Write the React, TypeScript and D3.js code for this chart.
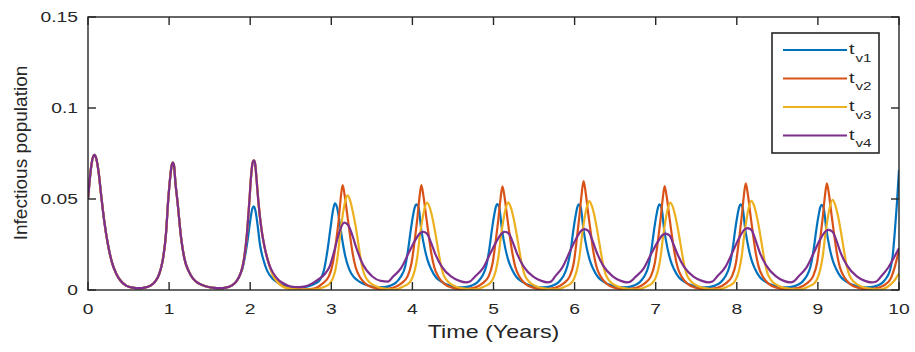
import React from 'react';
import * as d3 from 'd3';

type Pt = [number, number];

const xTicks = [0, 1, 2, 3, 4, 5, 6, 7, 8, 9, 10];
const yTicks = [0, 0.05, 0.1, 0.15];
const yTickLabels = ['0', '0.05', '0.1', '0.15'];
const seriesSubs = ['v1', 'v2', 'v3', 'v4'];
const seriesColors = ['#0072BD', '#D95319', '#EDB120', '#7E2F8E'];

const commonStart: Pt[] = [
  [0, 0.05], [0.02, 0.06], [0.04, 0.068], [0.06, 0.0728], [0.08, 0.0742], [0.1, 0.0725], [0.13, 0.065],
  [0.16, 0.053], [0.2, 0.038], [0.25, 0.024], [0.3, 0.0145], [0.35, 0.0088], [0.4, 0.0052], [0.47, 0.0024],
  [0.55, 0.0013], [0.63, 0.001], [0.7, 0.0013], [0.77, 0.0024], [0.83, 0.0048], [0.88, 0.009], [0.92, 0.016],
  [0.96, 0.03], [0.99, 0.05], [1.015, 0.0625], [1.03, 0.068], [1.045, 0.07], [1.06, 0.0685], [1.08, 0.058],
  [1.1, 0.05], [1.15, 0.028], [1.19, 0.017], [1.24, 0.0105], [1.3, 0.006], [1.37, 0.0035], [1.45, 0.0021],
  [1.55, 0.0012], [1.63, 0.001], [1.7, 0.0013], [1.77, 0.0024], [1.83, 0.0048], [1.88, 0.009],
];

const peak2Shared: Pt[] = [
  [1.92, 0.016], [1.96, 0.031], [1.99, 0.049], [2.01, 0.062], [2.03, 0.07], [2.045, 0.0712], [2.06, 0.0695],
  [2.08, 0.06], [2.1, 0.049], [2.14, 0.033], [2.18, 0.023], [2.23, 0.0145],
];

const tv1Tail: Pt[] = [
  [1.9, 0.011], [1.93, 0.017], [1.97, 0.028], [2.0, 0.038], [2.025, 0.0445], [2.04, 0.046], [2.06, 0.0445],
  [2.09, 0.036], [2.12, 0.025], [2.16, 0.017], [2.21, 0.0105], [2.27, 0.0065], [2.35, 0.0038], [2.45, 0.0022],
  [2.55, 0.0015], [2.65, 0.0015], [2.73, 0.0022], [2.8, 0.0035], [2.86, 0.0055], [2.91, 0.011], [2.95, 0.021],
  [2.99, 0.034], [3.02, 0.0435], [3.045, 0.0476], [3.07, 0.0455], [3.1, 0.038], [3.13, 0.029], [3.17, 0.019],
  [3.22, 0.0115], [3.28, 0.007], [3.35, 0.0045], [3.45, 0.0025], [3.55, 0.0016],
  [3.65, 0.0016], [3.73, 0.0024], [3.8, 0.0042], [3.86, 0.0075], [3.91, 0.0128], [3.95, 0.023], [3.98, 0.033],
  [4.01, 0.0415], [4.03, 0.0455], [4.05, 0.047], [4.075, 0.0455], [4.11, 0.033], [4.15, 0.023], [4.19, 0.016],
  [4.23, 0.0115], [4.29, 0.007], [4.36, 0.0045], [4.46, 0.0024], [4.56, 0.0015],
  [4.65, 0.0016], [4.73, 0.0024], [4.8, 0.0042], [4.86, 0.0075], [4.91, 0.013], [4.95, 0.023], [4.98, 0.033],
  [5.01, 0.0415], [5.03, 0.0458], [5.045, 0.0472], [5.07, 0.0456], [5.105, 0.033], [5.145, 0.023], [5.185, 0.016],
  [5.225, 0.0115], [5.285, 0.007], [5.355, 0.0045], [5.455, 0.0024], [5.555, 0.0015],
  [5.65, 0.0016], [5.73, 0.0024], [5.8, 0.0042], [5.86, 0.0075], [5.91, 0.013], [5.955, 0.023], [5.985, 0.033],
  [6.015, 0.0415], [6.035, 0.0457], [6.05, 0.0471], [6.075, 0.0455], [6.11, 0.033], [6.15, 0.023], [6.19, 0.016],
  [6.23, 0.0115], [6.29, 0.007], [6.36, 0.0045], [6.46, 0.0024], [6.56, 0.0015],
  [6.65, 0.0016], [6.73, 0.0024], [6.8, 0.0042], [6.86, 0.0075], [6.91, 0.013], [6.95, 0.023], [6.98, 0.033],
  [7.01, 0.0414], [7.03, 0.0456], [7.045, 0.047], [7.07, 0.0455], [7.105, 0.033], [7.145, 0.023], [7.185, 0.016],
  [7.225, 0.0115], [7.285, 0.007], [7.355, 0.0045], [7.455, 0.0024], [7.555, 0.0015],
  [7.65, 0.0016], [7.73, 0.0024], [7.8, 0.0042], [7.86, 0.0075], [7.91, 0.013], [7.95, 0.023], [7.98, 0.033],
  [8.01, 0.0415], [8.03, 0.0457], [8.045, 0.0471], [8.07, 0.0455], [8.105, 0.033], [8.145, 0.023], [8.185, 0.016],
  [8.225, 0.0115], [8.285, 0.007], [8.355, 0.0045], [8.455, 0.0024], [8.555, 0.0015],
  [8.65, 0.0016], [8.73, 0.0024], [8.8, 0.0042], [8.86, 0.0075], [8.91, 0.013], [8.95, 0.023], [8.98, 0.033],
  [9.01, 0.0414], [9.03, 0.0455], [9.046, 0.0468], [9.07, 0.0453], [9.105, 0.033], [9.145, 0.023], [9.185, 0.016],
  [9.225, 0.0115], [9.285, 0.007], [9.355, 0.0045], [9.455, 0.0024], [9.555, 0.0015],
  [9.65, 0.0016], [9.73, 0.0024], [9.8, 0.0042], [9.85, 0.007], [9.89, 0.011], [9.92, 0.018], [9.95, 0.033],
  [9.975, 0.048], [10.0, 0.066],
];

const tv2Tail: Pt[] = [
  [2.285, 0.0078], [2.35, 0.0038], [2.43, 0.0015], [2.52, 0.0006], [2.62, 0.0003], [2.72, 0.0004], [2.8, 0.0009],
  [2.89, 0.0035], [2.97, 0.0075], [3.02, 0.015], [3.06, 0.027], [3.09, 0.038], [3.115, 0.05], [3.14, 0.0577],
  [3.165, 0.052], [3.195, 0.042], [3.225, 0.032], [3.26, 0.021], [3.3, 0.0125], [3.35, 0.0073], [3.42, 0.0035],
  [3.52, 0.0012], [3.64, 0.0004],
  [3.76, 0.0012], [3.86, 0.0035], [3.94, 0.0075], [3.99, 0.015], [4.03, 0.028], [4.06, 0.039], [4.085, 0.05],
  [4.11, 0.0577], [4.135, 0.052], [4.165, 0.042], [4.195, 0.032], [4.23, 0.021], [4.27, 0.0125], [4.32, 0.0073],
  [4.39, 0.0035], [4.49, 0.0012], [4.61, 0.0004],
  [4.76, 0.0012], [4.86, 0.0035], [4.94, 0.0075], [4.99, 0.015], [5.03, 0.028], [5.06, 0.039], [5.085, 0.0495],
  [5.11, 0.057], [5.135, 0.0515], [5.165, 0.0415], [5.195, 0.0315], [5.23, 0.021], [5.27, 0.0125], [5.32, 0.0073],
  [5.39, 0.0035], [5.49, 0.0012], [5.61, 0.0004],
  [5.76, 0.0012], [5.86, 0.0035], [5.94, 0.0075], [5.99, 0.015], [6.03, 0.029], [6.06, 0.041], [6.085, 0.052],
  [6.11, 0.0598], [6.135, 0.054], [6.165, 0.043], [6.195, 0.033], [6.23, 0.0215], [6.27, 0.0128], [6.32, 0.0075],
  [6.39, 0.0036], [6.49, 0.0012], [6.61, 0.0004],
  [6.76, 0.0012], [6.86, 0.0035], [6.94, 0.0075], [6.99, 0.015], [7.03, 0.028], [7.06, 0.039], [7.085, 0.0495],
  [7.11, 0.0571], [7.135, 0.0515], [7.165, 0.0415], [7.195, 0.0315], [7.23, 0.021], [7.27, 0.0125], [7.32, 0.0073],
  [7.39, 0.0035], [7.49, 0.0012], [7.61, 0.0004],
  [7.76, 0.0012], [7.86, 0.0035], [7.94, 0.0075], [7.99, 0.015], [8.03, 0.0285], [8.06, 0.04], [8.085, 0.051],
  [8.11, 0.0586], [8.135, 0.053], [8.165, 0.0425], [8.195, 0.0322], [8.23, 0.0213], [8.27, 0.0127], [8.32, 0.0074],
  [8.39, 0.0035], [8.49, 0.0012], [8.61, 0.0004],
  [8.76, 0.0012], [8.86, 0.0035], [8.94, 0.0075], [8.99, 0.015], [9.03, 0.0285], [9.06, 0.04], [9.085, 0.051],
  [9.11, 0.0586], [9.135, 0.053], [9.165, 0.0425], [9.195, 0.0322], [9.23, 0.0213], [9.27, 0.0127], [9.32, 0.0074],
  [9.39, 0.0035], [9.49, 0.0012], [9.61, 0.0004],
  [9.74, 0.0012], [9.83, 0.003], [9.9, 0.0065], [9.95, 0.013], [10.0, 0.022],
];

const tv3Tail: Pt[] = [
  [2.285, 0.0075], [2.35, 0.0036], [2.43, 0.0013], [2.52, 0.0005], [2.65, 0.0002], [2.8, 0.0003], [2.9, 0.0015],
  [2.98, 0.0035], [3.02, 0.0065], [3.05, 0.011], [3.08, 0.019], [3.11, 0.031], [3.14, 0.041], [3.17, 0.0485],
  [3.2, 0.052], [3.23, 0.0495], [3.265, 0.043], [3.3, 0.035], [3.34, 0.0235], [3.37, 0.015], [3.4, 0.0095],
  [3.44, 0.0058], [3.5, 0.0032], [3.58, 0.0016], [3.68, 0.0007], [3.8, 0.0004],
  [3.88, 0.0018], [3.96, 0.0038], [4.0, 0.0068], [4.03, 0.011], [4.06, 0.018], [4.09, 0.029], [4.12, 0.038],
  [4.15, 0.0448], [4.18, 0.048], [4.21, 0.0458], [4.245, 0.04], [4.28, 0.032], [4.32, 0.0215], [4.35, 0.014],
  [4.38, 0.0088], [4.42, 0.0055], [4.48, 0.0031], [4.56, 0.0015], [4.66, 0.0007], [4.78, 0.0004],
  [4.88, 0.0018], [4.96, 0.0038], [5.0, 0.0068], [5.03, 0.011], [5.06, 0.018], [5.09, 0.029], [5.12, 0.038],
  [5.15, 0.0448], [5.18, 0.0481], [5.21, 0.0458], [5.245, 0.04], [5.28, 0.032], [5.32, 0.0215], [5.35, 0.014],
  [5.38, 0.0088], [5.42, 0.0055], [5.48, 0.0031], [5.56, 0.0015], [5.66, 0.0007], [5.78, 0.0004],
  [5.88, 0.0018], [5.96, 0.0038], [6.0, 0.0069], [6.03, 0.0112], [6.06, 0.0183], [6.09, 0.0295], [6.12, 0.0387],
  [6.15, 0.0455], [6.18, 0.0488], [6.21, 0.0465], [6.245, 0.0407], [6.28, 0.0325], [6.32, 0.0218], [6.35, 0.0142],
  [6.38, 0.009], [6.42, 0.0056], [6.48, 0.0031], [6.56, 0.0015], [6.66, 0.0007], [6.78, 0.0004],
  [6.88, 0.0018], [6.96, 0.0038], [7.0, 0.0068], [7.03, 0.011], [7.06, 0.018], [7.09, 0.029], [7.12, 0.038],
  [7.15, 0.0448], [7.18, 0.048], [7.21, 0.0458], [7.245, 0.04], [7.28, 0.032], [7.32, 0.0215], [7.35, 0.014],
  [7.38, 0.0088], [7.42, 0.0055], [7.48, 0.0031], [7.56, 0.0015], [7.66, 0.0007], [7.78, 0.0004],
  [7.88, 0.0018], [7.96, 0.0038], [8.0, 0.0069], [8.03, 0.0113], [8.06, 0.0184], [8.09, 0.0296], [8.12, 0.0388],
  [8.15, 0.0457], [8.18, 0.049], [8.21, 0.0467], [8.245, 0.0408], [8.28, 0.0327], [8.32, 0.0219], [8.35, 0.0143],
  [8.38, 0.009], [8.42, 0.0056], [8.48, 0.0031], [8.56, 0.0015], [8.66, 0.0007], [8.78, 0.0004],
  [8.88, 0.0018], [8.96, 0.0038], [9.0, 0.007], [9.03, 0.0114], [9.06, 0.0186], [9.09, 0.03], [9.12, 0.0392],
  [9.15, 0.0462], [9.18, 0.0495], [9.21, 0.0472], [9.245, 0.0412], [9.28, 0.033], [9.32, 0.0221], [9.35, 0.0144],
  [9.38, 0.0091], [9.42, 0.0057], [9.48, 0.0032], [9.56, 0.0015], [9.66, 0.0007], [9.78, 0.0004],
  [9.86, 0.0018], [9.93, 0.0045], [10.0, 0.0092],
];

const tv4Tail: Pt[] = [
  [2.285, 0.0092], [2.35, 0.0055], [2.43, 0.0032], [2.52, 0.0018], [2.6, 0.0016], [2.68, 0.002], [2.76, 0.0035],
  [2.84, 0.0058], [2.92, 0.0088], [2.98, 0.013], [3.04, 0.022], [3.1, 0.032], [3.16, 0.037], [3.21, 0.0355],
  [3.26, 0.03], [3.31, 0.023], [3.39, 0.014], [3.51, 0.0073], [3.61, 0.005],
  [3.7, 0.0046], [3.76, 0.0073], [3.86, 0.012], [3.95, 0.02], [4.03, 0.027], [4.09, 0.031], [4.13, 0.032],
  [4.18, 0.031], [4.23, 0.026], [4.28, 0.02], [4.36, 0.013], [4.48, 0.0073], [4.58, 0.005], [4.66, 0.0042],
  [4.71, 0.0047], [4.77, 0.0073], [4.87, 0.012], [4.96, 0.02], [5.04, 0.027], [5.1, 0.031], [5.14, 0.032],
  [5.19, 0.031], [5.24, 0.026], [5.29, 0.02], [5.37, 0.013], [5.49, 0.0073], [5.59, 0.005], [5.67, 0.0042],
  [5.71, 0.0047], [5.76, 0.0075], [5.85, 0.0125], [5.94, 0.021], [6.02, 0.0283], [6.08, 0.0325], [6.12, 0.0335],
  [6.17, 0.0325], [6.22, 0.0272], [6.27, 0.021], [6.35, 0.0135], [6.47, 0.0075], [6.57, 0.005], [6.65, 0.0042],
  [6.69, 0.0047], [6.75, 0.0072], [6.85, 0.0118], [6.94, 0.0195], [7.02, 0.026], [7.08, 0.03], [7.12, 0.031],
  [7.17, 0.03], [7.22, 0.025], [7.27, 0.0195], [7.35, 0.0127], [7.47, 0.0072], [7.57, 0.005], [7.65, 0.0042],
  [7.7, 0.0047], [7.76, 0.0075], [7.86, 0.0127], [7.95, 0.021], [8.03, 0.0287], [8.09, 0.033], [8.13, 0.034],
  [8.18, 0.033], [8.23, 0.0276], [8.28, 0.021], [8.36, 0.0137], [8.48, 0.0076], [8.58, 0.005], [8.66, 0.0042],
  [8.7, 0.0047], [8.76, 0.0074], [8.86, 0.0124], [8.95, 0.0205], [9.03, 0.028], [9.09, 0.032], [9.13, 0.033],
  [9.18, 0.032], [9.23, 0.027], [9.28, 0.0205], [9.36, 0.0134], [9.48, 0.0075], [9.58, 0.005], [9.66, 0.0042],
  [9.72, 0.0047], [9.78, 0.0075], [9.87, 0.0125], [9.94, 0.018], [10.0, 0.023],
];

const tv1: Pt[] = [...commonStart, ...tv1Tail];
const tv2: Pt[] = [...commonStart, ...peak2Shared, ...tv2Tail];
const tv3: Pt[] = [...commonStart, ...peak2Shared, ...tv3Tail];
const tv4: Pt[] = [...commonStart, ...peak2Shared, ...tv4Tail];
const seriesData: Pt[][] = [tv1, tv2, tv3, tv4];

const W = 915;
const H = 352;
const PL = 88;
const PR = 899;
const PT = 17;
const PB = 290;
const FONT = '"Liberation Sans", Arial, Helvetica, sans-serif';
const INK = '#262626';

export default function App() {
  const x = d3.scaleLinear().domain([0, 10]).range([PL, PR]);
  const y = d3.scaleLinear().domain([0, 0.15]).range([PB, PT]);
  const line = d3
    .line<Pt>()
    .x((d) => x(d[0]))
    .y((d) => y(d[1]))
    .curve(d3.curveMonotoneX);

  const legX0 = 772;
  const legY0 = 33;
  const legW = 107;
  const legH = 120;
  const legRowY = [50, 78.5, 107, 135.5];

  return (
    <div style={{ position: 'absolute', left: 0, top: 0 }}>
      <svg width={W} height={H} viewBox={`0 0 ${W} ${H}`} style={{ display: 'block', background: '#fff' }}>
        <defs>
          <clipPath id="plotClip">
            <rect x={PL} y={PT} width={PR - PL} height={PB - PT} />
          </clipPath>
        </defs>
        <rect x={0} y={0} width={W} height={H} fill="#fff" />
        <g clipPath="url(#plotClip)">
          {seriesData.map((d, i) => (
            <path key={i} d={line(d) || ''} fill="none" stroke={seriesColors[i]} strokeWidth={2.2} strokeLinejoin="round" />
          ))}
        </g>
        <rect x={PL} y={PT} width={PR - PL} height={PB - PT} fill="none" stroke={INK} strokeWidth={1.4} />
        {xTicks.map((t) => (
          <g key={'xt' + t}>
            <line x1={x(t)} x2={x(t)} y1={PB} y2={PB - 8} stroke={INK} strokeWidth={1.4} />
            <line x1={x(t)} x2={x(t)} y1={PT} y2={PT + 8} stroke={INK} strokeWidth={1.4} />
            <text
              transform={`translate(${x(t)},${314}) scale(1.33,1)`}
              textAnchor="middle"
              fontFamily={FONT}
              fontSize={14.5}
              fill={INK}
            >
              {String(t)}
            </text>
          </g>
        ))}
        {yTicks.map((t, i) => (
          <g key={'yt' + t}>
            <line x1={PL} x2={PL + 8} y1={y(t)} y2={y(t)} stroke={INK} strokeWidth={1.4} />
            <line x1={PR} x2={PR - 8} y1={y(t)} y2={y(t)} stroke={INK} strokeWidth={1.4} />
            <text
              transform={`translate(${78},${y(t) + 5.3}) scale(1.33,1)`}
              textAnchor="end"
              fontFamily={FONT}
              fontSize={14.5}
              fill={INK}
            >
              {yTickLabels[i]}
            </text>
          </g>
        ))}
        <text
          transform={`translate(${(PL + PR) / 2},${338}) scale(1.26,1)`}
          textAnchor="middle"
          fontFamily={FONT}
          fontSize={18.5}
          fill={INK}
        >
          Time (Years)
        </text>
        <text
          transform={`translate(${26.5},${153}) rotate(-90) scale(1.03,1)`}
          textAnchor="middle"
          fontFamily={FONT}
          fontSize={18.5}
          fill={INK}
        >
          Infectious population
        </text>
        <rect x={legX0} y={legY0} width={legW} height={legH} fill="#fff" stroke={INK} strokeWidth={1.6} />
        {seriesSubs.map((s, i) => (
          <g key={'lg' + s}>
            <line x1={783} x2={847} y1={legRowY[i]} y2={legRowY[i]} stroke={seriesColors[i]} strokeWidth={2.2} />
            <text
              transform={`translate(${849},${legRowY[i] + 4}) scale(1.4,1)`}
              fontFamily={FONT}
              fontSize={14}
              fill={INK}
            >
              t
            </text>
            <text
              transform={`translate(${855.5},${legRowY[i] + 11.5}) scale(1.45,1)`}
              fontFamily={FONT}
              fontSize={10.5}
              fill={INK}
            >
              {s}
            </text>
          </g>
        ))}
      </svg>
    </div>
  );
}
